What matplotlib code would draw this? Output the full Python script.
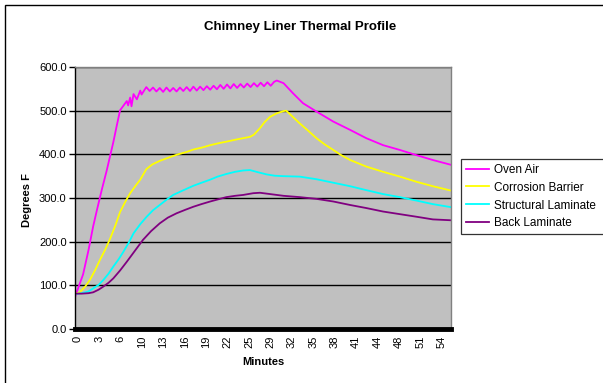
import numpy as np
import matplotlib
matplotlib.use("Agg")
import matplotlib.pyplot as plt
import matplotlib.transforms as mtransforms
from matplotlib.patches import Rectangle

plt.rcParams["font.family"] = ["Liberation Sans", "DejaVu Sans"]

# ---- data (minutes, degrees F) ----
oven_t = [0, 0.5, 1.2, 2.0, 2.7, 3.3, 4.0, 4.7, 5.2, 5.7, 6.2, 6.7, 6.9,
          7.7, 7.9, 8.2, 8.4, 8.7, 9.2, 9.7, 9.9,
          10.6, 11.1, 11.6, 12.1, 12.6, 13.1, 13.6, 14.1, 14.6, 15.1,
          15.6, 16.1, 16.6, 17.1, 17.6, 18.1, 18.6, 19.1, 19.6, 20.1,
          20.6, 21.1, 21.6, 22.1, 22.6, 23.1, 23.6, 24.1, 24.6, 25.1,
          25.6, 26.1, 26.6, 27.1, 27.6, 28.1, 28.6, 29.1, 29.6, 30.0,
          31.0, 32.4, 33.9, 35.9, 38.4, 40.9, 43.3, 45.8, 48.3, 50.8,
          53.2, 55.9]
oven_air = [73, 95, 125, 180, 235, 275, 320, 362, 395, 428, 465, 501, 505,
            522, 512, 530, 510, 538, 526, 546, 537,
            554, 545, 553, 544, 552, 543, 553, 544, 552, 544,
            553, 545, 554, 545, 555, 546, 555, 547, 556, 548,
            557, 549, 559, 550, 560, 551, 561, 552, 561, 553,
            562, 554, 563, 555, 564, 556, 565, 557, 566, 569,
            563, 540, 517, 498, 475, 456, 437, 421, 410, 398,
            387, 376]

corr_t = [0, 0.7, 1.5, 2.2, 3.0, 3.7, 4.5, 5.2, 6.0, 6.7, 7.5, 8.2, 9.0,
          9.7, 10.6, 11.5, 12.6, 14.0, 15.1, 16.5, 17.6, 19.0, 20.1, 21.5,
          22.5, 24.0, 25.0, 26.0, 26.6, 27.5, 28.2, 29.0, 30.0, 31.0, 31.4,
          32.3, 33.4, 34.6, 35.9, 37.1, 38.4, 39.6, 40.9, 43.3, 45.8, 48.3,
          50.8, 53.2, 55.9]
corrosion_barrier = [80, 84, 97, 112, 135, 158, 182, 206, 237, 268, 292, 311,
                     328, 342, 366, 377, 385, 393, 399, 405, 411, 416, 421,
                     426, 429, 434, 437, 440, 445, 460, 474, 486, 494, 499,
                     500, 487, 471, 455, 437, 423, 410, 398, 387, 372, 360,
                     349, 337, 327, 317]

struct_t = [0, 1.0, 2.0, 2.7, 3.5, 4.2, 5.0, 5.7, 6.5, 7.2, 8.0, 8.7, 9.7,
            10.65, 11.6, 12.6, 13.6, 14.6, 16.0, 17.6, 19.0, 20.1, 21.2,
            22.5, 23.8, 25.0, 26.0, 27.2, 28.5, 29.7, 31.0, 33.4, 35.9,
            38.4, 40.9, 43.3, 45.8, 48.3, 50.8, 53.2, 55.9]
structural_laminate = [80, 82, 86, 93, 101, 112, 127, 143, 160, 177, 198, 219,
                       240, 257, 272, 284, 296, 307, 317, 328, 336, 342, 349,
                       355, 360, 363, 364, 359, 354, 351, 350, 349, 343, 335,
                       327, 318, 309, 302, 294, 286, 279]

back_t = [0, 1.0, 2.0, 2.7, 3.5, 4.2, 5.0, 5.7, 6.7, 7.7, 8.9, 10.1, 11.3,
          12.6, 13.8, 15.1, 16.4, 17.6, 18.8, 20.1, 21.3, 22.5, 23.8, 25.0,
          26.5, 27.5, 29.0, 31.0, 33.4, 35.9, 38.4, 40.9, 43.3, 45.8, 48.3,
          50.8, 53.2, 55.9]
back_laminate = [81, 81, 82, 84, 90, 97, 106, 116, 134, 154, 179, 204, 224,
                 242, 255, 265, 273, 280, 286, 292, 297, 302, 305, 307, 311,
                 312, 309, 305, 302, 298, 292, 284, 277, 269, 263, 257, 251,
                 249]

tick_labels = ["0", "3", "6", "10", "13", "16", "19", "22", "25", "29",
               "32", "35", "38", "41", "44", "48", "51", "54"]
MIN_PER_TICK = 3.18

series = [
    ("Oven Air", oven_t, oven_air, "#FF00FF"),
    ("Corrosion Barrier", corr_t, corrosion_barrier, "#FFFF00"),
    ("Structural Laminate", struct_t, structural_laminate, "#00FFFF"),
    ("Back Laminate", back_t, back_laminate, "#800080"),
]

W, H = 603, 383
fig = plt.figure(figsize=(W / 100, H / 100), dpi=100)
fig.patch.set_facecolor("white")

# outer chart border (only top/left visible in the crop)
fig.patches.append(Rectangle((5 / W, -0.1), 1.2, 1.1 - 5 / H,
                             transform=fig.transFigure, fill=False,
                             edgecolor="black", lw=1.0))

ax = fig.add_axes([75 / W, 1 - 329 / H, (451 - 75) / W, (329 - 67) / H])
ax.set_facecolor("#C0C0C0")

for name, t, y, c in series:
    ax.plot(t, y, color=c, lw=1.3, label=name)

ax.set_xlim(0, 55.9)
ax.set_ylim(0, 600)
ax.set_yticks(np.arange(0, 601, 100))
ax.set_yticklabels([f"{v:.1f}" for v in np.arange(0, 601, 100)])
ax.yaxis.grid(True, color="black", lw=1.0)
ax.set_axisbelow(True)

ax.set_xticks(np.arange(len(tick_labels)) * MIN_PER_TICK)
ax.set_xticklabels(tick_labels, rotation=90, ha="center", va="top")
ax.tick_params(axis="x", length=0, pad=5, labelsize=8)
ax.tick_params(axis="y", length=4, width=1, pad=2, labelsize=8,
               direction="out", colors="black")
shift = mtransforms.ScaledTranslation(3 / 100, 0, fig.dpi_scale_trans)
for lbl in ax.get_xticklabels():
    lbl.set_transform(lbl.get_transform() + shift)

ax.spines["left"].set_color("black")
ax.spines["left"].set_linewidth(1.0)
ax.spines["bottom"].set_color("black")
ax.spines["bottom"].set_linewidth(3.5)
for s in ("top", "right"):
    ax.spines[s].set_color("#808080")
    ax.spines[s].set_linewidth(1.0)

fig.text(300 / W, 1 - 27 / H, "Chimney Liner Thermal Profile",
         ha="center", va="center", fontsize=9.5, fontweight="bold")
fig.text(263 / W, 1 - 362 / H, "Minutes", ha="center", va="center",
         fontsize=8, fontweight="bold")
fig.text(27 / W, 1 - 200 / H, "Degrees F", ha="center", va="center",
         rotation=90, fontsize=8, fontweight="bold")

leg = fig.legend(loc="upper left",
                 bbox_to_anchor=(461 / W, 1 - 237 / H, 160 / W, 78 / H),
                 mode="expand", fontsize=8.5, frameon=True, fancybox=False,
                 borderpad=0.4, labelspacing=0.5, handlelength=2.0,
                 handletextpad=0.4, borderaxespad=0)
leg.get_frame().set_edgecolor("black")
leg.get_frame().set_linewidth(0.9)

fig.savefig("out.png", dpi=100)
